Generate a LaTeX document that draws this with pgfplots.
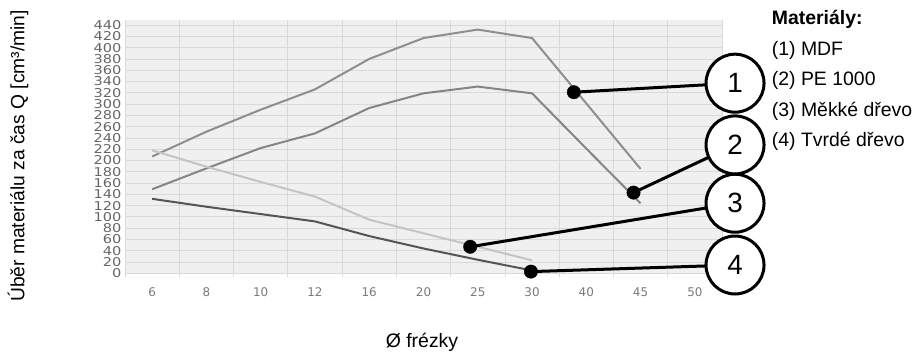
\documentclass[border=0pt]{standalone}
\usepackage{pgfplots}
\pgfplotsset{compat=1.18}
\usepackage{fontspec}
\setmainfont{Liberation Sans}
\newfontfamily\tickfont{DejaVu Sans}
\definecolor{gridc}{HTML}{D9D9D9}
\definecolor{bgc}{HTML}{F0F0F0}
\definecolor{mdf}{HTML}{8E8E8E}
\definecolor{pe}{HTML}{858585}
\definecolor{soft}{HTML}{C4C4C4}
\definecolor{hard}{HTML}{555555}
\definecolor{tickc}{HTML}{666666}
\definecolor{xtickc}{HTML}{7A7A7A}
\begin{document}
\begin{tikzpicture}
\begin{axis}[
  at={(0,0)}, anchor=south west,
  scale only axis, width=597bp, height=253.3bp,
  xmin=-0.5, xmax=10.5, ymin=0, ymax=449,
  xtick={0,...,10}, xticklabels={6,8,10,12,16,20,25,30,40,45,50},
  minor xtick={-0.5,0.5,...,10.5},
  ytick={0,20,...,440},
  yticklabel={\scalebox{1.2}[1]{\pgfmathprintnumber{\tick}}},
  xtick pos=bottom, ytick pos=left,
  ymajorgrids, xminorgrids,
  grid style={gridc, line width=0.8bp},
  minor grid style={gridc, line width=0.8bp},
  major tick length=0pt,
  minor tick length=4bp,
  tick align=outside,
  minor tick style={gridc, line width=0.8bp},
  axis line style={draw=none},
  axis background/.style={fill=bgc},
  clip=false,
  /pgf/number format/assume math mode=true,
  yticklabel style={font=\tickfont\fontsize{12.2}{12.2}\selectfont, text=tickc, inner sep=0pt, xshift=-3.3bp},
  xticklabel style={font=\tickfont\fontsize{12}{13}\selectfont, text=xtickc, yshift=-10.5bp},
]
% (1) MDF
\addplot[mdf, line width=2bp] coordinates {(0,207) (1,251) (2,290) (3,326) (4,380) (5,417) (6,432) (7,417) (8,301) (9,185)};
% (2) PE 1000
\addplot[pe, line width=2bp] coordinates {(0,149) (1,186) (2,222) (3,248) (4,293) (5,319) (6,331) (7,319) (8,221) (9,124)};
% (3) Mekke drevo
\addplot[soft, line width=2bp] coordinates {(0,218) (1,189) (2,162) (3,136) (4,95) (5,71) (6,47) (7,23)};
% (4) Tvrde drevo
\addplot[hard, line width=2bp] coordinates {(0,132) (1,118) (2,105) (3,92) (4,66) (5,44) (6,24) (7,5)};
% leader lines
\addplot[black, line width=3bp] coordinates {(7.77,321) (10.74,337)};
\addplot[black, line width=3bp] coordinates {(8.87,143) (10.74,227.6)};
\addplot[black, line width=3bp] coordinates {(5.86,47) (10.74,124.2)};
\addplot[black, line width=3bp] coordinates {(6.98,3) (10.74,14.7)};
% numbered circles
\node[circle, draw=black, line width=3bp, fill=white, minimum size=58bp, inner sep=0pt, font=\fontsize{28}{28}\selectfont] at (axis cs:10.74,337) {1};
\node[circle, draw=black, line width=3bp, fill=white, minimum size=58bp, inner sep=0pt, font=\fontsize{28}{28}\selectfont] at (axis cs:10.74,227.6) {2};
\node[circle, draw=black, line width=3bp, fill=white, minimum size=58bp, inner sep=0pt, font=\fontsize{28}{28}\selectfont] at (axis cs:10.74,124.2) {3};
\node[circle, draw=black, line width=3bp, fill=white, minimum size=58bp, inner sep=0pt, font=\fontsize{28}{28}\selectfont] at (axis cs:10.74,14.7) {4};
% dots
\addplot[only marks, mark=*, mark size=6.7bp, black] coordinates {(7.77,321) (8.87,143) (5.86,47) (6.98,3)};
\end{axis}
\node[rotate=90, font=\fontsize{19.3}{20}\selectfont] at (-107bp,117.3bp) {Úběr materiálu za čas Q [cm³/min]};
\node[font=\fontsize{19.5}{20}\selectfont] at (297bp,-68.7bp) {Ø frézky};
\node[anchor=base west, inner sep=0pt, font=\bfseries\fontsize{19.5}{20}\selectfont] at (646.7bp,248.3bp) {Materiály:};
\node[anchor=base west, inner sep=0pt, font=\fontsize{19.5}{20}\selectfont] at (646.7bp,217.3bp) {(1) MDF};
\node[anchor=base west, inner sep=0pt, font=\fontsize{19.5}{20}\selectfont] at (646.7bp,187.3bp) {(2) PE 1000};
\node[anchor=base west, inner sep=0pt, font=\fontsize{19.5}{20}\selectfont] at (646.7bp,156.6bp) {(3) Měkké dřevo};
\node[anchor=base west, inner sep=0pt, font=\fontsize{19.5}{20}\selectfont] at (646.7bp,126.6bp) {(4) Tvrdé dřevo};
\pgfresetboundingbox
\path[use as bounding box] (-125bp,-81.7bp) rectangle (789bp,273.3bp);
\end{tikzpicture}
\end{document}
